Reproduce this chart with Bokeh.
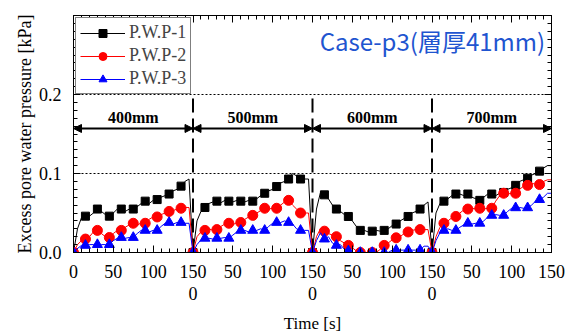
from bokeh.plotting import figure
from bokeh.models import (Range1d, LinearAxis, FixedTicker, SingleIntervalTicker,
                          PrintfTickFormatter, Legend, LegendItem, Label, Arrow,
                          NormalHead)
from bokeh.core.properties import value
from bokeh.embed import file_html
from bokeh.resources import INLINE

# ---------------- data ----------------
SEG_LEN = 150          # seconds per segment
STEP = 5               # sampling of the recorded lines [s]
MARK_EVERY = 3         # a marker every 15 s
segments = ["400mm", "500mm", "600mm", "700mm"]

pwp1 = [
    [0, 0.03, 0.044, 0.046, 0.046, 0.05, 0.055, 0.052, 0.048, 0.046, 0.05, 0.055, 0.055, 0.052, 0.055, 0.055,
     0.058, 0.062, 0.065, 0.062, 0.066, 0.067, 0.07, 0.072, 0.074, 0.078, 0.08, 0.084, 0.09, 0.093, 0],
    [0, 0.04, 0.052, 0.057, 0.062, 0.064, 0.065, 0.063, 0.066, 0.065, 0.064, 0.066, 0.065, 0.064, 0.066, 0.065,
     0.068, 0.072, 0.075, 0.078, 0.08, 0.0835, 0.088, 0.09, 0.093, 0.1, 0.097, 0.093, 0.093, 0.093, 0],
    [0, 0.055, 0.076, 0.073, 0.068, 0.06, 0.055, 0.052, 0.048, 0.0456, 0.04, 0.033, 0.028, 0.028, 0.026, 0.027,
     0.028, 0.027, 0.028, 0.03, 0.034, 0.036, 0.04, 0.043, 0.0456, 0.05, 0.052, 0.055, 0.06, 0.064, 0],
    [0, 0.05, 0.062, 0.065, 0.068, 0.072, 0.074, 0.074, 0.072, 0.074, 0.07, 0.068, 0.066, 0.07, 0.074, 0.074,
     0.072, 0.075, 0.076, 0.08, 0.082, 0.085, 0.09, 0.092, 0.094, 0.098, 0.1, 0.103, 0.107, 0.11, 0.11],
]
pwp2 = [
    [0, 0.01, 0.015, 0.017, 0.02, 0.026, 0.028, 0.024, 0.02, 0.019, 0.024, 0.028, 0.028, 0.032, 0.035, 0.037,
     0.034, 0.038, 0.037, 0.042, 0.045, 0.045, 0.048, 0.05, 0.052, 0.053, 0.055, 0.056, 0.057, 0.057, 0],
    [0, 0.02, 0.026, 0.028, 0.03, 0.028, 0.029, 0.033, 0.036, 0.037, 0.035, 0.038, 0.038, 0.042, 0.045, 0.047,
     0.05, 0.053, 0.056, 0.055, 0.056, 0.056, 0.06, 0.064, 0.066, 0.06, 0.055, 0.05, 0.05, 0.05, 0],
    [0, 0.02, 0.03, 0.027, 0.024, 0.022, 0.02, 0.015, 0.012, 0.009, 0.006, 0.002, 0, 0, 0, 0,
     0, 0.004, 0.009, 0.012, 0.016, 0.0186, 0.02, 0.024, 0.026, 0.028, 0.029, 0.029, 0.029, 0.029, 0],
    [0, 0.02, 0.032, 0.037, 0.04, 0.044, 0.0456, 0.05, 0.054, 0.055, 0.056, 0.055, 0.056, 0.055, 0.056, 0.056,
     0.065, 0.072, 0.075, 0.074, 0.075, 0.075, 0.08, 0.084, 0.085, 0.088, 0.086, 0.086, 0.09, 0.092, 0.092],
]
pwp3 = [
    [0, 0.005, 0.009, 0.009, 0.01, 0.01, 0.01, 0.01, 0.01, 0.01, 0.015, 0.018, 0.019, 0.018, 0.019, 0.019,
     0.024, 0.028, 0.028, 0.026, 0.028, 0.028, 0.033, 0.037, 0.038, 0.036, 0.038, 0.038, 0.037, 0.037, 0],
    [0, 0.01, 0.016, 0.018, 0.018, 0.017, 0.018, 0.018, 0.019, 0.018, 0.022, 0.026, 0.028, 0.028, 0.026, 0.028,
     0.028, 0.03, 0.028, 0.033, 0.037, 0.038, 0.038, 0.04, 0.038, 0.036, 0.03, 0.028, 0.028, 0.028, 0],
    [0, 0.015, 0.025, 0.017, 0.02, 0.012, 0.009, 0.01, 0.004, 0.002, 0, 0, 0, 0, 0, 0,
     0, 0, 0, 0, 0.003, 0.003, 0.003, 0.003, 0.003, 0.003, 0.003, 0.003, 0.008, 0.008, 0],
    [0, 0.015, 0.025, 0.028, 0.03, 0.028, 0.028, 0.032, 0.035, 0.037, 0.036, 0.037, 0.037, 0.04, 0.045, 0.047,
     0.048, 0.047, 0.047, 0.052, 0.056, 0.0566, 0.057, 0.056, 0.0566, 0.06, 0.065, 0.067, 0.07, 0.075, 0.075],
]
series_names = ["P.W.P-1", "P.W.P-2", "P.W.P-3"]
x_major = list(range(0, 601, 50))
x_minor = list(range(0, 601, 10))
x_tick_labels = ["0", "50", "100", "150", "50", "100", "150", "50", "100", "150", "50", "100", "150"]
x_second_row = [150, 300, 450]
x_second_labels = ["0", "0", "0"]


def build(seg_vals):
    xs, ys, mx, my = [], [], [], []
    for i, vals in enumerate(seg_vals):
        for j, v in enumerate(vals):
            x = i * SEG_LEN + j * STEP
            xs.append(x)
            ys.append(v)
            if j % MARK_EVERY == 0 and j * STEP < SEG_LEN:
                mx.append(x)
                my.append(v)
    return xs, ys, mx, my


SERIF = "Liberation Serif"

p = figure(width=575, height=334, frame_width=478, frame_height=237,
           x_range=Range1d(0, 600), y_range=Range1d(0, 0.3),
           output_backend="svg", toolbar_location=None,
           min_border_left=73, min_border_right=24, min_border_top=15, min_border_bottom=82)
p.outline_line_color = "black"
p.outline_line_width = 1
p.background_fill_color = "white"
p.border_fill_color = "white"

p.xgrid.visible = False
p.ygrid.grid_line_color = "black"
p.ygrid.grid_line_dash = "2 2"
p.ygrid.grid_line_width = 1

yticker = SingleIntervalTicker(interval=0.1, num_minor_ticks=10)
xticker = FixedTicker(ticks=x_major, minor_ticks=x_minor)
p.ygrid.ticker = yticker


def style_axis(ax, labels=True):
    ax.axis_line_color = "black"
    ax.major_tick_in = 7
    ax.major_tick_out = 0
    ax.minor_tick_in = 4
    ax.minor_tick_out = 0
    ax.major_tick_line_color = "black"
    ax.minor_tick_line_color = "black"
    ax.major_label_text_font = SERIF
    ax.major_label_text_font_size = "18px"
    ax.major_label_text_color = "black"
    ax.axis_label_text_font = SERIF
    ax.axis_label_text_font_style = "normal"
    ax.axis_label_text_color = "black"
    if not labels:
        ax.major_label_text_font_size = "1px"
        ax.major_label_text_color = None
        ax.major_label_standoff = 0


xa = p.xaxis[0]
xa.ticker = xticker
xa.major_label_overrides = {t: s for t, s in zip(x_major, x_tick_labels)}
style_axis(xa)
xa.major_label_standoff = 12

ya = p.yaxis[0]
ya.ticker = yticker
ya.formatter = PrintfTickFormatter(format="%.1f")
style_axis(ya)
ya.major_label_standoff = 12
ya.axis_label = "Excess pore water pressure [kPa]"
ya.axis_label_text_font_size = "18px"
ya.axis_label_standoff = 1

# second row of x labels + axis title
xa2 = LinearAxis(ticker=FixedTicker(ticks=x_second_row, minor_ticks=[]),
                 major_label_overrides={t: s for t, s in zip(x_second_row, x_second_labels)})
style_axis(xa2)
xa2.axis_line_color = None
xa2.major_tick_line_color = None
xa2.minor_tick_line_color = None
xa2.major_label_standoff = 6
xa2.axis_label = "Time [s]"
xa2.axis_label_text_font_size = "17px"
xa2.axis_label_standoff = 11
p.add_layout(xa2, "below")

top = LinearAxis(ticker=xticker)
style_axis(top, labels=False)
p.add_layout(top, "above")
right = LinearAxis(ticker=yticker)
style_axis(right, labels=False)
p.add_layout(right, "right")

# segment separators, arrows, segment names
bounds = [i * SEG_LEN for i in range(len(segments) + 1)]
p.segment(x0=bounds[1:-1], y0=[0] * 3, x1=bounds[1:-1], y1=[0.195] * 3,
          line_color="black", line_width=2, line_dash="14 6")
for i, name in enumerate(segments):
    p.add_layout(Arrow(x_start=bounds[i], x_end=bounds[i + 1], y_start=0.157, y_end=0.157,
                       line_width=2, line_color="black",
                       start=NormalHead(size=8, fill_color="black", line_color="black"),
                       end=NormalHead(size=8, fill_color="black", line_color="black")))
p.text(x=[(bounds[i] + bounds[i + 1]) / 2 for i in range(len(segments))],
       y=[0.171] * len(segments), text=segments,
       text_font=value(SERIF), text_font_style="bold", text_font_size="16px",
       text_align="center", text_baseline="middle", text_color="black")

# data series
styles = [("black", "square", 8), ("red", "circle", 10), ("blue", "triangle", 10)]
items = []
for name, seg_vals, (col, mk, sz) in zip(series_names, [pwp1, pwp2, pwp3], styles):
    xs, ys, mx, my = build(seg_vals)
    ln = p.line(xs, ys, line_color=col, line_width=1)
    sc = p.scatter(mx, my, marker=mk, size=sz, fill_color=col, line_color=col)
    items.append(LegendItem(label=name, renderers=[ln, sc]))

legend = Legend(items=items, location="top_left")
legend.margin = 2
legend.padding = 4
legend.spacing = 2
legend.glyph_width = 45
legend.glyph_height = 20
legend.label_height = 20
legend.label_standoff = 4
legend.label_text_font = SERIF
legend.label_text_font_size = "18px"
legend.border_line_color = "black"
legend.border_line_width = 1
legend.background_fill_alpha = 1
p.add_layout(legend, "center")

p.add_layout(Label(x=592, y=0.268, text="Case-p3(層厚41mm)", text_align="right",
                   text_baseline="middle", text_font="Noto Sans CJK JP",
                   text_font_size="24px", text_color="#1f55d0"))

open("out.html", "w").write(file_html(p, INLINE))
